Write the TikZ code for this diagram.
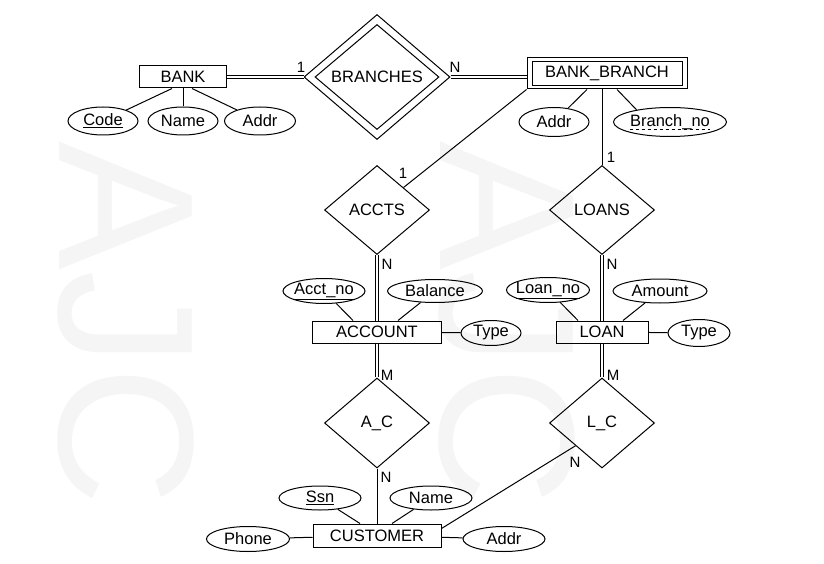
\documentclass[tikz,border=0pt]{standalone}
\usepackage{fontspec}
\setmainfont{Liberation Sans}
\usetikzlibrary{shapes.geometric}

\begin{document}
\begin{tikzpicture}[x=1pt, y=-1pt, line width=1pt, font=\fontsize{16.5}{18}\selectfont]
\tikzstyle{entity}=[rectangle, draw=black, inner sep=0pt]
\tikzstyle{relation}=[diamond, draw=black, aspect=1.2, inner sep=0pt, minimum width=105pt, minimum height=89pt]
\tikzstyle{attr}=[ellipse, draw=black, inner xsep=-4pt, inner ysep=0pt]
\tikzstyle{card}=[font=\fontsize{15}{15}\selectfont, inner sep=0pt]
\tikzstyle{total}=[double, double distance=2pt]
\tikzstyle{wmark}=[black!4, rotate=-90, font=\fontsize{193}{193}\selectfont, inner sep=0pt]

\useasboundingbox (0,0) rectangle (824,564);

% Watermark
\node at (126,324) [wmark] (wm_left) {AJC};
\node at (507,324) [wmark] (wm_right) {AJC};

% Entities
\node at (183,77) [entity, minimum width=87pt, minimum height=22pt] (bank) {BANK};
\node at (607,73.5) [entity, minimum width=160pt, minimum height=31pt] (bbranch) {};
\node at (607,73.5) [entity, minimum width=150pt, minimum height=24pt] (bbranch_in) {BANK\_BRANCH};
\node at (377,332) [entity, minimum width=129pt, minimum height=22pt] (account) {ACCOUNT};
\node at (602,332) [entity, minimum width=92pt, minimum height=22pt] (loan) {LOAN};
\node at (377,535.5) [entity, minimum width=128pt, minimum height=23pt] (customer) {CUSTOMER};

% Relationships
\node at (377,77) [relation, minimum width=146pt, minimum height=125pt] (branches) {};
\node at (377,77) [relation, minimum width=124pt, minimum height=105pt] (branches_in) {BRANCHES};
\node at (377,210) [relation] (accts) {ACCTS};
\node at (602,210) [relation] (loans) {LOANS};
\node at (377,423) [relation, minimum height=90pt] (a_c) {A\_C};
\node at (602,423) [relation, minimum height=90pt] (l_c) {L\_C};

% Attributes
\node at (103,121) [attr, minimum width=70pt, minimum height=28pt] (code) {\underline{Code}};
\node at (183,121) [attr, minimum width=70pt, minimum height=28pt] (bank_name) {Name};
\node at (260,121) [attr, minimum width=71pt, minimum height=28pt] (bank_addr) {Addr};
\node at (554,122) [attr, minimum width=70pt, minimum height=29pt] (bb_addr) {Addr};
\node at (670,122) [attr, minimum width=113pt, minimum height=29pt] (branch_no) {};
\node at (670,122) [inner sep=0pt] (branch_no_txt) {Branch\_no};
\draw [dashed, line width=0.8pt] ([yshift=-3pt]branch_no_txt.base west) to ([yshift=-3pt]branch_no_txt.base east);
\node at (324,291) [attr, minimum width=82pt, minimum height=25pt] (acct_no) {\underline{Acct\_no}};
\node at (435,291) [attr, minimum width=95pt, minimum height=23pt] (balance) {Balance};
\node at (491,333) [attr, minimum width=60pt, minimum height=25pt] (acc_type) {Type};
\node at (548,290) [attr, minimum width=83pt, minimum height=25pt] (loan_no) {\underline{Loan\_no}};
\node at (660,291) [attr, minimum width=94pt, minimum height=24pt] (amount) {Amount};
\node at (699,333) [attr, minimum width=62pt, minimum height=27pt] (loan_type) {Type};
\node at (320,498) [attr, minimum width=82pt, minimum height=24pt] (ssn) {\underline{Ssn}};
\node at (431,498) [attr, minimum width=82pt, minimum height=24pt] (cust_name) {Name};
\node at (248,539) [attr, minimum width=83pt, minimum height=25pt] (phone) {Phone};
\node at (504,539) [attr, minimum width=82pt, minimum height=25pt] (cust_addr) {Addr};

% Entity -> Relationship
\draw [total] (bank) to (branches);
\draw [total] (branches.east) to (branches.east -| bbranch.west);
\draw (bbranch.south west) to (accts.north east);
\draw (loans.north |- bbranch.south) to (loans.north);
\draw [total] (accts) to (account);
\draw [total] (loans) to (loan);
\draw [total] (account) to (a_c);
\draw [total] (loan) to (l_c);
\draw (a_c) to (customer);
\draw (l_c.south west) to ([yshift=7pt]customer.east);

% Entity -> Attribute
\draw ([xshift=-11pt]bank.south) to (code);
\draw (bank) to (bank_name);
\draw ([xshift=9pt]bank.south) to (bank_addr);
\draw ([xshift=-20pt]bbranch.south) to (bb_addr);
\draw ([xshift=10pt]bbranch.south) to (branch_no.160);
\draw ([xshift=-24pt]account.north) to (acct_no);
\draw ([xshift=21pt]account.north) to (balance);
\draw (account) to (acc_type);
\draw ([xshift=-24pt]loan.north) to (loan_no);
\draw ([xshift=21pt]loan.north) to (amount);
\draw (loan) to (loan_type);
\draw ([xshift=-17pt]customer.north) to (ssn);
\draw ([xshift=15pt]customer.north) to (cust_name);
\draw (customer) to (phone);
\draw (customer) to (cust_addr);

%% Cardinalities
\foreach \x/\y/\lbl [count=\i] in {301/67/1, 455/67/N, 403/173/1, 611/157/1, 387/264/N, 612/264/N, 387/375/M, 613/375/M, 386/477/N, 575/462/N}
\node at (\x,\y) [card] (card_\i) {\lbl};
\end{tikzpicture}
\end{document}
